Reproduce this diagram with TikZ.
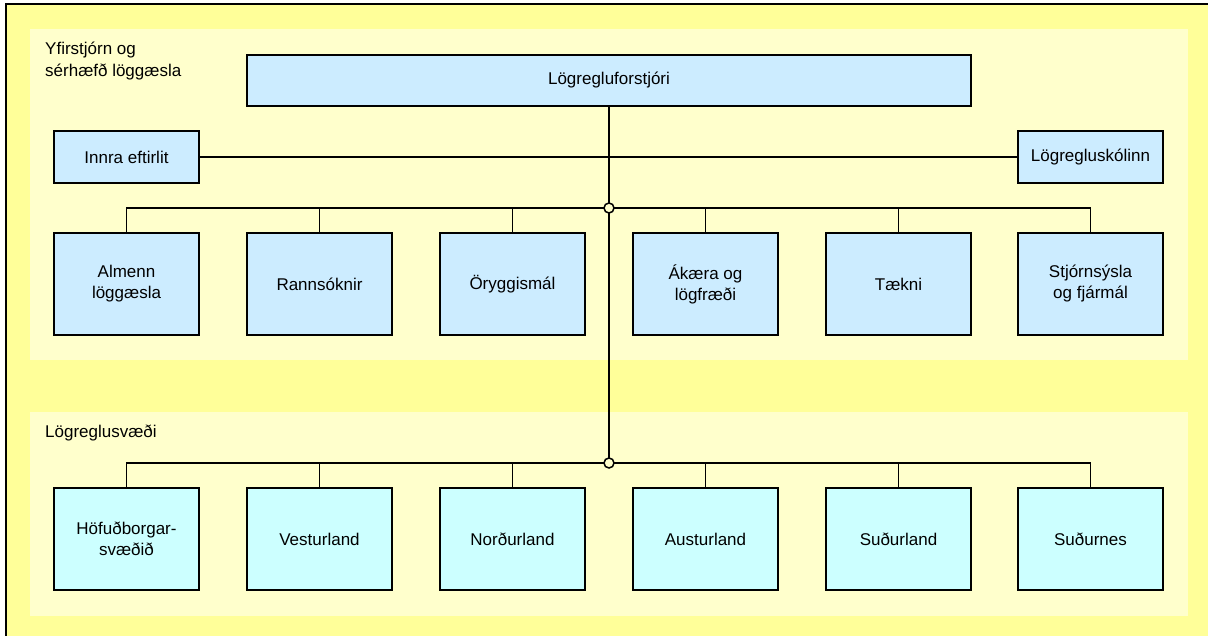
\documentclass[tikz,border=0pt]{standalone}
\usepackage{fontspec}
\setmainfont{Liberation Sans}
\definecolor{outeryellow}{HTML}{FFFF99}
\definecolor{panelyellow}{HTML}{FFFFCC}
\definecolor{boxblue}{HTML}{CCECFF}
\definecolor{boxcyan}{HTML}{CCFFFF}
\begin{document}
\begin{tikzpicture}[x=1pt,y=-1pt,
  txt/.style={font=\fontsize{17}{21}\selectfont},
  box/.style={txt, draw=black, line width=1.5pt, minimum width=145pt, inner sep=0pt, align=center},
  smallbox/.style={box, fill=boxblue, minimum height=52pt},
  unitbox/.style={box, fill=boxblue, minimum height=102pt},
  regionbox/.style={box, fill=boxcyan, minimum height=102pt},
  conn/.style={line width=1.5pt, black},
  junction/.style={draw=black, fill=panelyellow, line width=1.5pt, circle, minimum size=10pt, inner sep=0pt},
  paneltitle/.style={txt, anchor=base west, inner sep=0pt}
]
\useasboundingbox (0,0) rectangle (1208,636);
% background
\fill[outeryellow] (6,4) rectangle (1208,636);
\draw[line width=1.5pt] (6,636) -- (6,4) -- (1208,4);
\fill[panelyellow] (30,29) rectangle (1188,360);
\fill[panelyellow] (30,412) rectangle (1188,616);

\node[paneltitle] (t1a) at (45,55) {Yfirstjórn og};
\node[paneltitle] (t1b) at (45,77) {sérhæfð löggæsla};
\node[paneltitle] (t2) at (45,437) {Lögreglusvæði};

\coordinate (j1) at (609,208);
\coordinate (j2) at (609,463);

% nodes
\node[box, fill=boxblue, minimum width=724pt, minimum height=51pt] (chief) at (609,80.5) {Lögregluforstjóri};
\node[smallbox] (ie) at (126.5,157) {Innra eftirlit};
\node[smallbox] (ls) at (1090.5,157) {Lögregluskólinn};

\node[unitbox] (u1) at (126.5,284) {Almenn\\löggæsla};
\node[unitbox] (u2) at (319.5,284) {Rannsóknir};
\node[unitbox] (u3) at (512.5,284) {Öryggismál};
\node[unitbox] (u4) at (705.5,284) {Ákæra og\\lögfræði};
\node[unitbox] (u5) at (898.5,284) {Tækni};
\node[unitbox] (u6) at (1090.5,284) {Stjórnsýsla\\og fjármál};

\node[regionbox] (r1) at (126.5,539) {Höfuðborgar-\\svæðið};
\node[regionbox] (r2) at (319.5,539) {Vesturland};
\node[regionbox] (r3) at (512.5,539) {Norðurland};
\node[regionbox] (r4) at (705.5,539) {Austurland};
\node[regionbox] (r5) at (898.5,539) {Suðurland};
\node[regionbox] (r6) at (1090.5,539) {Suðurnes};

% connectors
\draw[conn] (chief.south) -- (j2);
\draw[conn] (ie.east) -- (ls.west);
\draw[conn] (u1.north) |- (j1) -| (u6.north);
\foreach \n in {u2,u3,u4,u5} \draw[conn] (\n.north) -- (\n.north |- j1);
\draw[conn] (r1.north) |- (j2) -| (r6.north);
\foreach \n in {r2,r3,r4,r5} \draw[conn] (\n.north) -- (\n.north |- j2);

\node[junction] (jn1) at (j1) {};
\node[junction] (jn2) at (j2) {};
\end{tikzpicture}
\end{document}
